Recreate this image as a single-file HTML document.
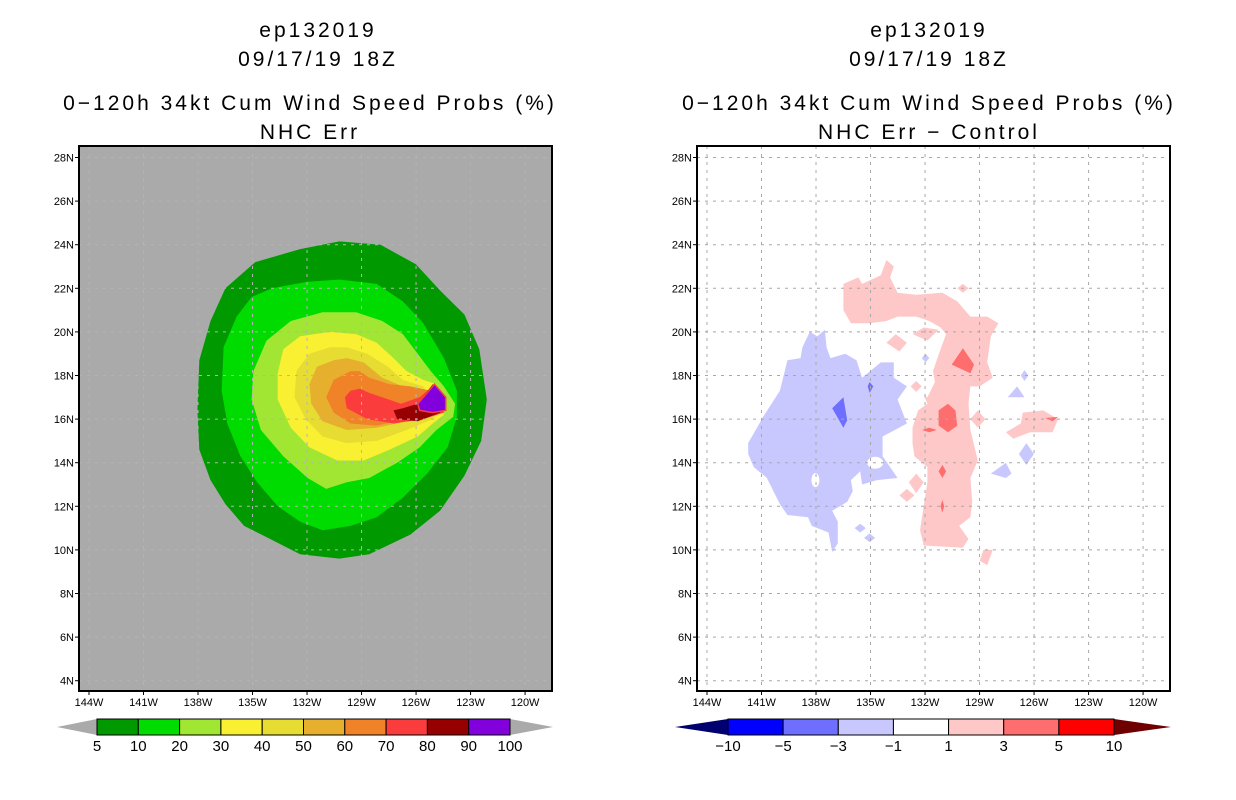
<!DOCTYPE html>
<html><head><meta charset="utf-8">
<style>
html,body{margin:0;padding:0;background:#fff;}
svg{display:block;font-family:"Liberation Sans",sans-serif;}
</style></head>
<body>
<svg id="root" width="1236" height="800" viewBox="0 0 1236 800">
  <g font-size="21" letter-spacing="3" text-anchor="middle" fill="#000">
    <text x="318" y="37">ep132019</text>
    <text x="318" y="66">09/17/19 18Z</text>
    <text x="310" y="110">0−120h 34kt Cum Wind Speed Probs (%)</text>
    <text x="310" y="139">NHC Err</text>
  </g>
  <g font-size="21" letter-spacing="3" text-anchor="middle" fill="#000">
    <text x="929" y="37">ep132019</text>
    <text x="929" y="66">09/17/19 18Z</text>
    <text x="929" y="110">0−120h 34kt Cum Wind Speed Probs (%)</text>
    <text x="929" y="139">NHC Err − Control</text>
  </g>
  <g id="leftPanel"></g>
  <g id="rightPanel"></g>
  <g id="leftBar"></g>
  <g id="rightBar"></g>
</svg>
<script>
// ---- data ----
const lonTicks = [144,141,138,135,132,129,126,123,120];
const latTicks = [28,26,24,22,20,18,16,14,12,10,8,6,4];
const probLevels = ["5","10","20","30","40","50","60","70","80","90","100"];
const probColors = ["#009a00","#00dc00","#a0e632","#faf032","#e6dc32","#e6af2d","#f08228","#fa3c3c","#960000","#8200dc"];
const diffLevels = ["−10","−5","−3","−1","1","3","5","10"];
const diffColors = ["#0000ff","#6e6eff","#c8c8ff","#ffffff","#ffc8c8","#ff6e6e","#ff0000"];
// probability contours (lonW, latN)
const prob5 = [[130.7,24.15],[128.5,24.0],[126.6,23.1],[125.3,21.9],[124.0,20.8],[123.2,19.2],[122.8,16.9],[123.1,15.0],[124.0,13.4],[125.3,11.8],[126.9,10.7],[129.1,9.8],[130.7,9.6],[132.8,9.8],[134.4,10.5],[135.8,11.1],[136.8,12.1],[137.6,13.2],[138.2,14.6],[138.3,16.4],[138.2,18.7],[137.6,20.5],[136.8,22.0],[135.2,23.2],[132.8,23.8]];
const prob10 = [[130.7,22.4],[132.4,22.3],[134.3,22.0],[135.4,21.6],[136.2,20.7],[136.9,19.3],[137.0,17.3],[136.7,15.8],[136.0,14.3],[135.1,13.1],[134.0,12.0],[132.8,11.3],[131.6,10.9],[130.1,11.1],[128.7,11.5],[127.3,12.4],[126.0,13.5],[124.9,14.7],[124.4,16.1],[124.4,17.3],[125.1,18.8],[126.2,20.4],[127.3,21.4],[128.7,22.2]];
const prob20 = [[131.6,20.9],[133.3,20.5],[134.6,19.6],[135.3,18.2],[135.4,16.9],[134.9,15.5],[133.7,14.3],[132.4,13.3],[131.4,12.8],[130.3,13.1],[129.1,13.3],[127.6,14.0],[126.4,14.7],[125.5,15.5],[124.6,16.1],[124.5,16.7],[125.1,17.5],[125.8,18.2],[126.5,19.0],[127.3,19.9],[128.4,20.5],[129.8,20.9]];
const prob30 = [[131.2,20.0],[132.8,19.8],[133.7,19.2],[134.0,18.1],[134.0,16.9],[133.3,15.6],[132.3,14.7],[130.8,14.1],[129.4,14.1],[128.0,14.6],[126.5,15.2],[125.7,15.8],[125.1,16.2],[125.5,17.6],[126.2,17.8],[127.1,18.2],[127.8,18.8],[128.7,19.5],[129.8,19.9]];
const prob40 = [[131.2,19.3],[132.3,19.0],[133.0,18.2],[133.1,17.0],[132.5,16.0],[131.6,15.2],[130.3,14.9],[128.7,15.0],[127.1,15.5],[125.7,16.0],[125.3,16.3],[126.2,17.5],[127.3,17.8],[128.1,18.4],[129.2,19.0],[130.3,19.3]];
const prob50 = [[131.0,18.7],[131.9,18.4],[132.3,17.6],[132.2,16.7],[131.6,15.9],[130.3,15.5],[128.7,15.6],[127.1,15.9],[125.6,16.2],[126.2,17.3],[127.3,17.5],[128.4,17.9],[129.4,18.6],[130.3,18.8]];
const prob60 = [[130.1,18.2],[131.0,17.8],[131.4,17.0],[131.0,16.3],[130.1,15.8],[128.7,15.7],[127.1,16.0],[125.6,16.3],[125.8,17.3],[126.9,17.5],[128.0,17.6],[129.1,17.9],[129.6,18.2]];
const prob70 = [[130.1,17.3],[130.4,17.0],[130.3,16.5],[129.2,16.0],[127.8,15.8],[126.2,16.0],[125.1,16.3],[125.7,17.5],[126.4,17.0],[127.4,16.7],[128.4,17.0],[129.1,17.2],[129.6,17.4]];
const prob80 = [[127.8,16.4],[127.6,16.0],[126.5,15.9],[125.3,16.3],[125.1,16.9],[125.7,17.6],[126.5,16.7],[127.3,16.5]];
const prob90 = [[126.4,16.4],[125.7,16.3],[125.0,16.4],[125.0,17.0],[125.6,17.6],[126.0,17.2],[126.5,16.7]];
// difference contours (lonW, latN)
const negMain = [[137.8,20.1],[138.2,19.8],[138.6,20.0],[139.0,19.3],[139.1,18.8],[139.8,18.7],[140.2,17.3],[141.1,16.1],[141.9,14.9],[141.9,14.4],[141.6,13.8],[140.9,13.3],[140.2,12.1],[139.8,11.6],[138.7,11.5],[138.5,11.1],[137.6,10.8],[137.4,9.9],[137.1,10.3],[137.1,11.3],[137.4,11.8],[136.6,12.2],[136.3,12.7],[136.4,13.2],[135.9,13.6],[135.8,13.0],[135.0,13.2],[133.9,13.3],[134.7,14.3],[134.7,15.2],[133.4,15.8],[133.9,16.9],[133.4,17.5],[134.1,17.9],[134.1,18.6],[134.8,18.6],[135.8,17.9],[136.1,18.7],[136.7,19.0],[137.5,18.8],[137.7,19.3]];
const negHoles = [[135.1,14.0,8,6],[138.3,13.2,4,7]];
const negSmall = [
  [[127.1,18.25],[126.9,18.0],[127.1,17.75],[127.3,18.0]],
  [[127.5,17.5],[128.0,17.0],[127.1,17.0]],
  [[127.0,14.9],[126.6,14.4],[127.0,13.9],[127.4,14.4]],
  [[128.1,14.0],[127.8,13.5],[128.1,13.3],[128.9,13.5]],
  [[135.9,11.2],[135.6,11.0],[135.9,10.8],[136.2,11.0]],
  [[135.4,10.75],[135.1,10.55],[135.4,10.35],[135.7,10.55]],
  [[132.4,19.0],[132.2,18.8],[132.4,18.6],[132.6,18.8]]
];
const neg2 = [
  [[137.4,16.5],[136.8,17.0],[136.6,15.95],[136.8,15.6]],
  [[135.4,17.7],[135.2,17.5],[135.4,17.2],[135.5,17.5]]
];
const posMain = [[136.8,22.2],[136.0,22.5],[135.8,22.2],[134.8,22.6],[134.5,23.3],[134.1,23.0],[134.3,22.5],[133.9,21.8],[132.9,21.7],[131.5,21.8],[130.7,21.4],[130.0,20.7],[129.1,20.7],[128.5,20.4],[128.9,19.8],[129.1,18.6],[128.8,17.9],[129.5,17.5],[130.0,17.5],[130.1,16.7],[130.0,15.5],[129.6,14.1],[130.0,13.3],[129.9,12.2],[130.0,11.5],[130.6,11.1],[130.1,10.5],[130.4,10.1],[132.5,10.2],[132.7,10.9],[132.5,12.0],[132.3,13.1],[132.3,13.8],[133.0,14.3],[133.1,14.9],[133.1,15.6],[132.8,16.4],[132.3,16.7],[132.5,17.1],[132.3,17.0],[131.9,17.7],[132.0,18.2],[131.6,19.2],[131.3,19.9],[131.6,20.2],[132.2,20.5],[132.9,20.7],[133.9,20.7],[134.5,20.5],[135.4,20.4],[136.4,20.4],[136.8,21.0]];
const posSmall = [
  [[127.2,16.3],[126.1,16.4],[125.3,16.0],[125.6,15.4],[126.8,15.4],[127.7,15.1],[128.1,15.4],[127.3,15.8]],
  [[129.3,10.0],[128.8,10.0],[129.1,9.3],[129.5,9.5]],
  [[132.5,20.2],[131.7,20.1],[132.3,19.6],[133.1,19.9]],
  [[134.0,19.9],[133.4,19.5],[133.8,19.1],[134.5,19.5]],
  [[129.6,16.4],[129.2,16.0],[129.6,15.6],[130.0,16.0]],
  [[132.9,13.5],[132.5,13.1],[132.9,12.6],[133.3,13.1]],
  [[133.4,12.8],[133.0,12.5],[133.4,12.2],[133.8,12.5]],
  [[132.9,17.75],[132.6,17.5],[132.9,17.25],[133.2,17.5]],
  [[130.4,22.2],[130.1,22.0],[130.4,21.8],[130.7,22.0]]
];
const pos3 = [
  [[130.4,19.25],[129.8,18.5],[130.0,18.1],[131.0,18.5]],
  [[131.2,16.7],[130.8,16.4],[130.7,15.7],[131.2,15.4],[131.7,15.7],[131.7,16.4]],
  [[131.5,13.9],[131.3,13.6],[131.5,13.3],[131.7,13.6]],
  [[131.5,12.3],[131.4,12.0],[131.5,11.7],[131.6,12.0]],
  [[125.3,16.1],[126.0,16.05],[125.6,15.9]],
  [[132.2,15.6],[131.8,15.5],[132.2,15.4],[132.6,15.5]]
];

// ---- axes ----
const NS = "http://www.w3.org/2000/svg";
const FW = 473, FTOP = 146, FH = 545;
const LEFT_X = 79, RIGHT_X = 697;
function tickX(x0, lon){ return x0 + 10 + (144 - lon) * 18.17; }
function markX(x0, lon){ return x0 + 12 + (144 - lon) * 18.67; }
function yOf(lat){ return 157.5 + (28 - lat) * 21.8; }
function mk(tag, attrs, parent){ const e=document.createElementNS(NS,tag); for(const k in attrs) e.setAttribute(k,attrs[k]); parent.appendChild(e); return e; }
function polyPts(x0, pts){ return pts.map(p => markX(x0,p[0]).toFixed(1)+","+yOf(p[1]).toFixed(1)).join(" "); }

function drawFrameAxes(g, x0, gridColor){
  const gg = mk("g",{},g);
  
  
  lonTicks.forEach(l=>{
    const x=tickX(x0,l);
    mk("line",{x1:x,x2:x,y1:FTOP,y2:FTOP+FH,stroke:gridColor,"stroke-width":1,"stroke-dasharray":"3,5"},gg);
  });
  latTicks.forEach(l=>{
    const y=yOf(l);
    mk("line",{x1:x0,x2:x0+FW,y1:y,y2:y,stroke:gridColor,"stroke-width":1,"stroke-dasharray":"3,5"},gg);
  });
  const fr = mk("rect",{x:x0,y:FTOP,width:FW,height:FH,fill:"none",stroke:"#000","stroke-width":2},g);
  
  
  const xa = mk("g",{"font-size":11,"text-anchor":"middle"},g);
  
  
  lonTicks.forEach(l=>{
    const x=tickX(x0,l);
    mk("line",{x1:x,x2:x,y1:FTOP+FH,y2:FTOP+FH+4,stroke:"#000"},xa);
    const t=mk("text",{x:x,y:FTOP+FH+15},xa); t.textContent=l+"W";
  });
  const ya = mk("g",{"font-size":11,"text-anchor":"end"},g);
  
  
  latTicks.forEach(l=>{
    const y=yOf(l);
    mk("line",{x1:x0-4,x2:x0,y1:y,y2:y,stroke:"#000"},ya);
    const t=mk("text",{x:x0-5,y:y+4},ya); t.textContent=l+"N";
  });
}

// ---- left panel ----
(function(){
  const g=document.getElementById("leftPanel"), x0=LEFT_X;
  const bg=mk("rect",{x:x0,y:FTOP,width:FW,height:FH,fill:"#aaaaaa"},g);
  
  
  const layers=[prob5,prob10,prob20,prob30,prob40,prob50,prob60,prob70,prob80,prob90];
  layers.forEach((pts,i)=>{
    const p=mk("polygon",{points:polyPts(x0,pts),fill:probColors[i],stroke:i===9?"#fa3c3c":"none","stroke-width":i===9?1.5:0},g);
    
    
  });
  drawFrameAxes(g,x0,"#b4b4b4");
})();

// ---- right panel ----
(function(){
  const g=document.getElementById("rightPanel"), x0=RIGHT_X;
  const bg=mk("rect",{x:x0,y:FTOP,width:FW,height:FH,fill:"#ffffff"},g);
  
  
  const neg=mk("polygon",{points:polyPts(x0,negMain),fill:"#c8c8ff"},g);
  
  
  negHoles.forEach(h=>{
    const e=mk("ellipse",{cx:markX(x0,h[0]),cy:yOf(h[1]),rx:h[2],ry:h[3],fill:"#ffffff"},g);
    
    
  });
  negSmall.forEach(pts=>{
    const p=mk("polygon",{points:polyPts(x0,pts),fill:"#c8c8ff"},g);
    
    
  });
  neg2.forEach(pts=>{
    const p=mk("polygon",{points:polyPts(x0,pts),fill:"#6e6eff"},g);
    
    
  });
  const pos=mk("polygon",{points:polyPts(x0,posMain),fill:"#ffc8c8"},g);
  
  
  posSmall.forEach(pts=>{
    const p=mk("polygon",{points:polyPts(x0,pts),fill:"#ffc8c8"},g);
    
    
  });
  pos3.forEach(pts=>{
    const p=mk("polygon",{points:polyPts(x0,pts),fill:"#ff6e6e"},g);
    
    
  });
  drawFrameAxes(g,x0,"#a8a8a8");
})();

// ---- colorbars ----
function colorbar(id, bx0, bx1, tipL, tipR, colors, labels, leftTip, rightTip){
  const g=document.getElementById(id);
  const y0=719, y1=735, ym=727;
  const n=colors.length, w=(bx1-bx0)/n;
  const tl=mk("polygon",{points:`${tipL},${ym} ${bx0},${y0} ${bx0},${y1}`,fill:leftTip},g);
  
  
  const tr=mk("polygon",{points:`${tipR},${ym} ${bx1},${y0} ${bx1},${y1}`,fill:rightTip},g);
  
  
  colors.forEach((c,i)=>{
    const r=mk("rect",{x:bx0+i*w,y:y0,width:w,height:y1-y0,fill:c,stroke:"#000","stroke-width":1},g);
    
    
  });
  labels.forEach((l,i)=>{
    const t=mk("text",{x:bx0+i*w,y:751,"font-size":15,"text-anchor":"middle"},g);
    
    
    t.textContent=l;
  });
}
colorbar("leftBar",97,510,57,553,probColors,probLevels,"#aaaaaa","#aaaaaa");
colorbar("rightBar",728,1114,675,1171,diffColors,diffLevels,"#00006e","#6e0000");
</script>
</body></html>
